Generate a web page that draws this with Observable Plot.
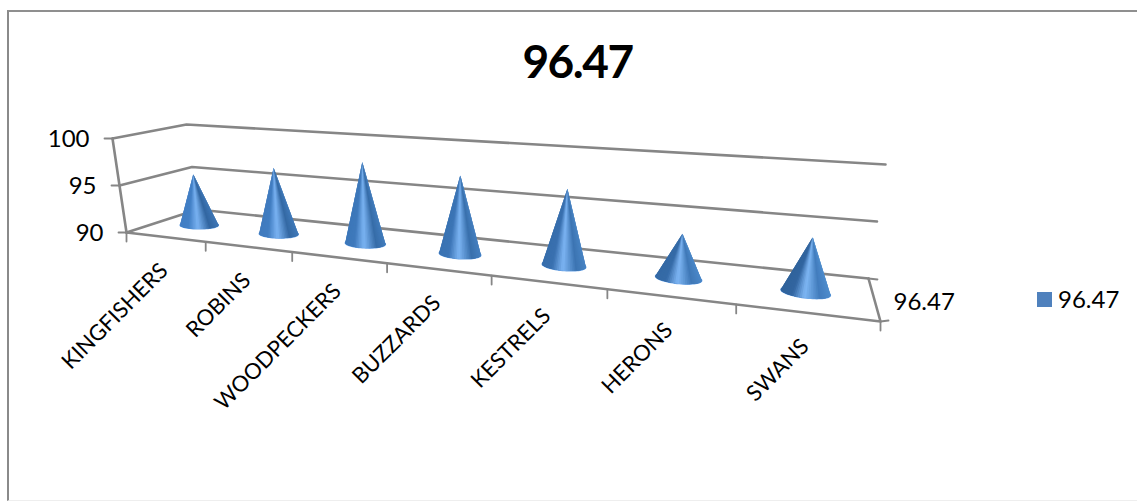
<!DOCTYPE html>
<html>
<head>
<meta charset="utf-8">
<script src="https://cdn.jsdelivr.net/npm/d3@7"></script>
<script src="https://cdn.jsdelivr.net/npm/@observablehq/plot@0.6"></script>
<style>
  html, body { margin: 0; padding: 0; background: #fff; }
  #chart { position: relative; width: 1137px; height: 502px; overflow: hidden; font-family: Lato, "Open Sans", sans-serif; color: #000; }
  #frame { position: absolute; left: 7px; top: 10px; width: 1200px; height: 491px; border-left: 2px solid #8a8a8a; border-top: 2px solid #8f8f8f; border-bottom: 1px solid #eeeeee; box-sizing: border-box; }
  #title { position: absolute; left: 0; top: 32px; width: 1155px; text-align: center; font-size: 46px; letter-spacing: -1.5px; font-weight: 700; line-height: 58px; }
  #legend { position: absolute; left: 1037px; top: 285px; display: flex; align-items: center; font-size: 24px; line-height: 28px; }
  #legend i { display: block; width: 15px; height: 15px; background: #4f81bd; margin-right: 6px; }
  svg { position: absolute; left: 0; top: 0; }
  svg g[aria-label="line"] { filter: blur(0.45px); }
</style>
</head>
<body>
<div id="chart">
  <div id="frame"></div>
  <div id="title"></div>
  <div id="legend"><i></i><span></span></div>
</div>
<script>
const seriesName = "96.47";
const categories = ["KINGFISHERS", "ROBINS", "WOODPECKERS", "BUZZARDS", "KESTRELS", "HERONS", "SWANS"];
const values = [95.6, 97.0, 98.3, 97.7, 97.2, 94.0, 94.7];
const valueTicks = [90, 95, 100];

// The chart's 3D box: corners on screen, floor then ceiling.
const box = {
  floor: {fl: [126, 232], fr: [880, 321], bl: [197, 209], br: [868, 278]},
  top:   {fl: [112, 138], fr: [899, 195], bl: [186, 124], br: [885, 164]}
};
// perspective foreshortening along the categories: front edge and mid-depth
const persp = (u, k = 1.42) => u / (u + k * (1 - u));
const mix = (a, b, t) => [a[0] + (b[0] - a[0]) * t, a[1] + (b[1] - a[1]) * t];
const plane = (q, a, w) => mix(mix(q.fl, q.fr, a), mix(q.bl, q.br, a), w);
// a: foreshortened position along the categories, w: depth, v: value
const project = (a, w, v) => mix(plane(box.floor, a, w), plane(box.top, a, w), (v - 90) / 10);

const P = (p, extra = {}) => ({x: p[0], y: p[1], ...extra});
const n = categories.length;

// Wall and floor rules
const rules = [];
valueTicks.forEach((v, i) => {
  [[0, 0], [0, 1], [1, 1]].forEach(([a, w]) => rules.push(P(project(a, w, v), {id: "wall" + i})));
});
[[0, 0], [1, 0], [1, 1]].forEach(([a, w]) => rules.push(P(project(a, w, 90), {id: "floor"})));
[90, 100].forEach((v) => rules.push(P(project(0, 0, v), {id: "edge"})));

// Tick marks
const ticks = [];
valueTicks.forEach((v) => {
  const p = project(0, 0, v);
  ticks.push(P(p, {id: "v" + v}), P([p[0] - 8, p[1]], {id: "v" + v}));
});
d3.range(n + 1).forEach((i) => {
  const p = project(persp(i / n), 0, 90);
  ticks.push(P(p, {id: "c" + i}), P([p[0], p[1] + 9], {id: "c" + i}));
});
[[1, 1, 9, 1], [1, 0, 8, -1]].forEach(([a, w, dx, dy], i) => {
  const p = project(a, w, 90);
  ticks.push(P(p, {id: "d" + i}), P([p[0] + dx, p[1] + dy], {id: "d" + i}));
});

// Cones
const stops = [0, 0.22, 0.47, 0.78, 1];
const shadeL = ["#4380c6", "#4482c8", "#79b2f2", "#31659f", "#3d75b3"];
const shadeR = ["#2e6098", "#30629c", "#7fb7f4", "#447fc0", "#508ecf"];
const shade = (s, a) => {
  const pick = d3.bisect(stops, s) - 1;
  const i = Math.max(0, Math.min(stops.length - 2, pick));
  const t = (s - stops[i]) / (stops[i + 1] - stops[i]);
  const l = d3.interpolateRgb(shadeL[i], shadeL[i + 1])(t);
  const r = d3.interpolateRgb(shadeR[i], shadeR[i + 1])(t);
  return d3.interpolateRgb(l, r)(a);
};

const slices = [];
const bases = [];
categories.forEach((name, i) => {
  const a0 = persp((i + 0.5) / n, 1.39);
  const ra = (16.5 + 9.5 * a0) / 720;
  const ring = d3.range(72).map((k) => {
    const th = (k / 72) * 2 * Math.PI;
    return project(a0 + ra * Math.cos(th), 0.5 + 0.14 * Math.sin(th), 90);
  });
  const apex = project(a0, 0.5, values[i]);
  const hull = d3.polygonHull([apex, ...ring]);
  const k0 = hull.findIndex((p) => p === apex);
  const arc = [...hull.slice(k0 + 1), ...hull.slice(0, k0)];
  const xs = d3.extent(arc, (p) => p[0]);
  ring.forEach((p) => bases.push(P(p, {id: name})));
  // Each slice reaches over its neighbour's span, so no seams show between them
  const ordered = arc[0][0] <= arc[arc.length - 1][0] ? arc : [...arc].reverse();
  d3.pairs(ordered).forEach(([p, q], j) => {
    const s = (((p[0] + q[0]) / 2) - xs[0]) / (xs[1] - xs[0]);
    const color = shade(s, a0);
    const id = name + j;
    const far = ordered[Math.min(j + 3, ordered.length - 1)];
    [apex, p, q, far].forEach((c) => slices.push(P(c, {id, color})));
  });
});

// Category labels hang off the middle of each slot on the front edge
const labels = categories.map((name, i) => {
  const p = project(persp((i + 0.5) / n), 0, 90);
  return {name, x: p[0] - 1, y: p[1] + 30};
});
const valueLabels = valueTicks.map((v) => {
  const p = project(0, 0, v);
  return {text: String(v), x: p[0] - 23, y: p[1] + 1};
});
const depthLabel = (() => {
  const p = plane(box.floor, 1, 0.5);
  return [{text: seriesName, x: p[0] + 19, y: p[1] + 2}];
})();

const grey = "#868686";
const plot = Plot.plot({
  width: 1137,
  height: 502,
  margin: 0,
  style: {background: "transparent", fontFamily: "Lato, 'Open Sans', sans-serif", color: "#000"},
  x: {domain: [0, 1137], range: [0, 1137], axis: null},
  y: {domain: [0, 502], range: [0, 502], axis: null},
  marks: [
    Plot.line(rules, {x: "x", y: "y", z: "id", stroke: grey, strokeWidth: 2.6}),
    Plot.line(ticks, {x: "x", y: "y", z: "id", stroke: grey, strokeWidth: 1.8}),
    Plot.line(bases, {x: "x", y: "y", z: "id", curve: "linear-closed", fill: "#6aa3e6", stroke: "#6aa3e6", strokeWidth: 1.2}),
    Plot.line(slices, {x: "x", y: "y", z: "id", curve: "linear-closed", fill: "color", stroke: "none"}),
    Plot.text(valueLabels, {x: "x", y: "y", text: "text", textAnchor: "end", fontSize: 24, fill: "#000"}),
    Plot.text(depthLabel, {x: "x", y: "y", text: "text", textAnchor: "start", fontSize: 24, fill: "#000"}),
    Plot.text(labels, {x: "x", y: "y", text: "name", textAnchor: "end", rotate: -45, fontSize: 22, fill: "#000"})
  ]
});
document.getElementById("chart").appendChild(plot);
document.getElementById("title").textContent = seriesName;
document.querySelector("#legend span").textContent = seriesName;
</script>
</body>
</html>
